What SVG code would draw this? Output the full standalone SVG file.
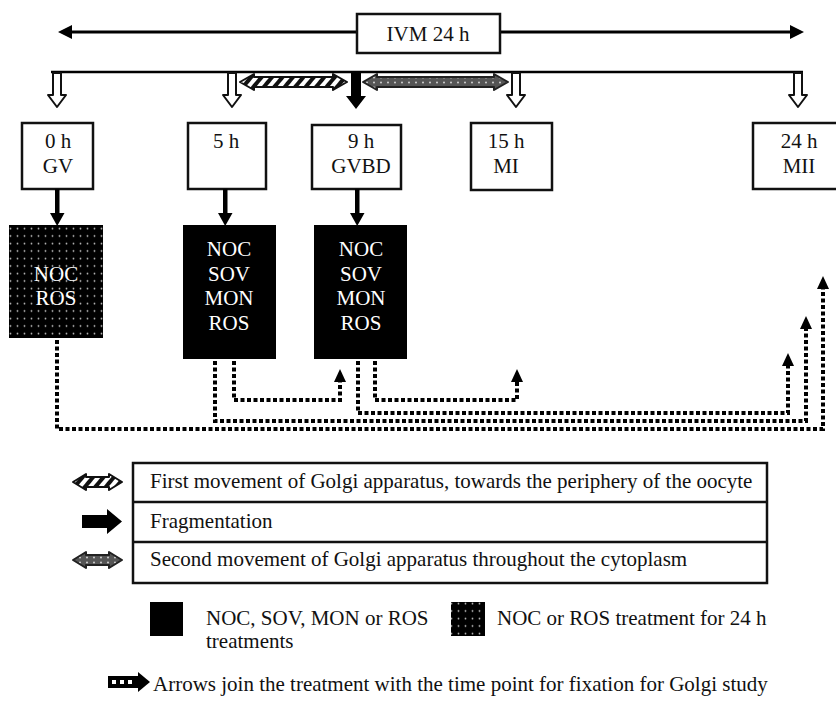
<svg xmlns="http://www.w3.org/2000/svg" width="836" height="705" viewBox="0 0 836 705">
<defs>
<style>
text{font-family:"Liberation Serif","Times New Roman",serif;font-size:21px;fill:#111}
.c{text-anchor:middle}
.w{fill:#fff}
.box{fill:#fff;stroke:#111;stroke-width:2.5}
.dotbox{fill:url(#dots)}
.conn{fill:none;stroke:#000;stroke-width:4;stroke-dasharray:4 2.5;marker-end:url(#ah)}
.line{stroke:#000;stroke-width:3;fill:none}
.hollow{fill:#fff;stroke:#111;stroke-width:2;stroke-linejoin:round}
.hatch{fill:url(#hatch);stroke:#111;stroke-width:2;stroke-linejoin:round}
.gray{fill:url(#grayd);stroke:#222;stroke-width:2;stroke-linejoin:round}
.tbl{fill:#fff;stroke:#111;stroke-width:2.5}
</style>
<pattern id="dots" width="7" height="7.5" patternUnits="userSpaceOnUse"><rect width="7" height="7.5" fill="#000"/><circle cx="3.5" cy="3.5" r="0.9" fill="#bbb"/></pattern>
<pattern id="hatch" width="8" height="8" patternUnits="userSpaceOnUse" patternTransform="rotate(40)"><rect width="8" height="8" fill="#fff"/><rect width="4" height="8" fill="#111"/></pattern>
<pattern id="grayd" width="7" height="5" patternUnits="userSpaceOnUse"><rect width="7" height="5" fill="#555"/><circle cx="3" cy="2.5" r="0.9" fill="#ddd"/></pattern>
<marker id="ah" markerUnits="userSpaceOnUse" markerWidth="14" markerHeight="14" refX="0" refY="7" orient="auto" viewBox="0 0 14 14"><path d="M0,1 L13,7 L0,13 z" fill="#000"/></marker>
</defs>
<rect width="836" height="705" fill="#fff"/>

<g id="timeline">
<line class="line" x1="70" y1="32" x2="792" y2="32"/>
<polygon points="58,32 72,25 72,39" fill="#000"/>
<polygon points="804,32 790,25 790,39" fill="#000"/>
<line x1="51" y1="72" x2="803" y2="72" stroke="#000" stroke-width="2.5"/>
</g>

<g id="ivm">
<rect class="box" x="357" y="14" width="143" height="39"/>
<text class="c" x="428" y="41">IVM 24 h</text>
</g>

<g id="time-arrows">
<polygon class="hollow" points="53,73 61,73 61,95 66,95 57,107 48,95 53,95"/>
<polygon class="hollow" points="228,73 236,73 236,95 241,95 232,107 223,95 228,95"/>
<polygon class="hollow" points="512,73 520,73 520,95 525,95 516,107 507,95 512,95"/>
<polygon class="hollow" points="794,73 802,73 802,95 807,95 798,107 789,95 794,95"/>
<polygon points="351,73 361,73 361,96 366,96 356,109 346,96 351,96" fill="#000"/>
<polygon class="hatch" points="240,82 254,74 254,77 333,77 333,74 347,82 333,90 333,87 254,87 254,90"/>
<polygon class="gray" points="363,82 377,74 377,77 494,77 494,74 508,82 494,90 494,87 377,87 377,90"/>
</g>

<g id="t0">
<rect class="box" x="22" y="123" width="71" height="66"/>
<text class="c" x="58" y="148">0 h</text>
<text class="c" x="58" y="173">GV</text>
</g>
<g id="t5">
<rect class="box" x="188" y="123" width="78" height="66"/>
<text class="c" x="226" y="148">5 h</text>
</g>
<g id="t9">
<rect class="box" x="312" y="125" width="89" height="64"/>
<text class="c" x="361" y="148">9 h</text>
<text class="c" x="361" y="173">GVBD</text>
</g>
<g id="t15">
<rect class="box" x="471" y="123" width="81" height="67"/>
<text class="c" x="506" y="148">15 h</text>
<text class="c" x="506" y="173">MI</text>
</g>
<g id="t24">
<rect class="box" x="753" y="123" width="92" height="66"/>
<text class="c" x="799" y="148">24 h</text>
<text class="c" x="799" y="173">MII</text>
</g>

<g id="down-arrows">
<rect x="55" y="189" width="4.5" height="25" fill="#000"/>
<polygon points="50,213 64.5,213 57.2,226" fill="#000"/>
<rect x="223" y="189" width="4.5" height="25" fill="#000"/>
<polygon points="218,213 232.5,213 225.2,226" fill="#000"/>
<rect x="355" y="189" width="4.5" height="25" fill="#000"/>
<polygon points="350,213 364.5,213 357.2,226" fill="#000"/>
</g>

<g id="treat0">
<rect class="dotbox" x="9" y="225" width="94" height="113"/>
<text class="c w" x="56" y="281">NOC</text>
<text class="c w" x="56" y="305">ROS</text>
</g>
<g id="treat5">
<rect x="183" y="225" width="93" height="134" fill="#000"/>
<text class="c w" x="229" y="256">NOC</text>
<text class="c w" x="229" y="281">SOV</text>
<text class="c w" x="229" y="305">MON</text>
<text class="c w" x="229" y="330">ROS</text>
</g>
<g id="treat9">
<rect x="314" y="225" width="93" height="134" fill="#000"/>
<text class="c w" x="361" y="256">NOC</text>
<text class="c w" x="361" y="281">SOV</text>
<text class="c w" x="361" y="305">MON</text>
<text class="c w" x="361" y="330">ROS</text>
</g>

<g id="connectors">
<path class="conn" d="M57,340 V429 H823 V289"/>
<path class="conn" d="M215,361 V421 H806 V329"/>
<path class="conn" d="M234,361 V400 H340 V382"/>
<path class="conn" d="M358,361 V413 H788 V366"/>
<path class="conn" d="M375,361 V400 H517 V382"/>
</g>

<g id="legend-table">
<rect class="tbl" x="133" y="463" width="634" height="120"/>
<line x1="133" y1="502" x2="767" y2="502" stroke="#111" stroke-width="2.5"/>
<line x1="133" y1="542" x2="767" y2="542" stroke="#111" stroke-width="2.5"/>
<text x="150" y="488">First movement of Golgi apparatus, towards the periphery of the oocyte</text>
<text x="150" y="528">Fragmentation</text>
<text x="150" y="566">Second movement of Golgi apparatus throughout the cytoplasm</text>
<polygon class="hatch" points="73,482 86,474 86,477 109,477 109,474 122,482 109,490 109,487 86,487 86,490"/>
<polygon points="82,515 107,515 107,509 122,521.5 107,534 107,528 82,528" fill="#000"/>
<polygon class="gray" points="73,560 86,552 86,555 109,555 109,552 122,560 109,568 109,565 86,565 86,568"/>
</g>

<g id="legend-fill">
<rect x="150" y="602" width="33" height="34" fill="#000"/>
<text x="206" y="625">NOC, SOV, MON or ROS</text>
<text x="206" y="648">treatments</text>
<rect class="dotbox" x="451" y="602" width="34" height="34"/>
<text x="497" y="625">NOC or ROS treatment for 24 h</text>
</g>

<g id="legend-arrow">
<rect x="108" y="676" width="30" height="12" fill="#000"/>
<rect x="112" y="680" width="4" height="4" fill="#fff"/>
<rect x="120" y="680" width="4" height="4" fill="#fff"/>
<rect x="128" y="680" width="4" height="4" fill="#fff"/>
<polygon points="138,672 150,682 138,692" fill="#000"/>
<text x="153" y="691">Arrows join the treatment with the time point for fixation for Golgi study</text>
</g>
</svg>
